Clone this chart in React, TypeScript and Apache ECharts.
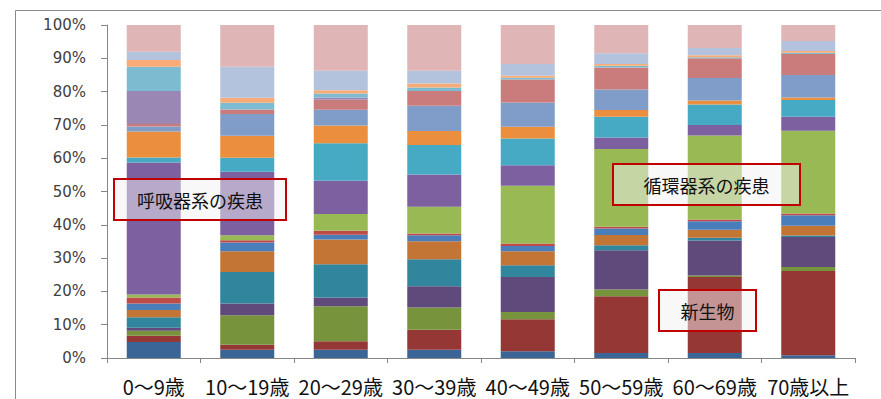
import React, { useEffect, useRef } from "react";
import * as echarts from "echarts";

const categories = ["0～9歳", "10～19歳", "20～29歳", "30～39歳", "40～49歳", "50～59歳", "60～69歳", "70歳以上"];

// series values (percent of each age group), bottom to top
const s01 = [4.8, 2.5, 2.5, 2.5, 2.0, 1.5, 1.5, 0.8];
const s02 = [1.9, 1.5, 2.5, 6.0, 9.6, 17.0, 22.8, 25.3];
const s03 = [1.5, 8.8, 10.5, 6.6, 2.2, 2.0, 0.5, 1.2];
const s04 = [0.9, 3.5, 2.6, 6.4, 10.5, 11.8, 10.5, 9.0];
const s05 = [3.1, 9.5, 10.0, 8.1, 3.5, 1.5, 0.8, 0.4];
const s06 = [2.2, 6.2, 7.4, 5.4, 4.2, 3.1, 2.4, 2.9];
const s07 = [2.0, 2.6, 1.4, 1.8, 1.6, 1.9, 2.6, 3.2];
const s08 = [1.8, 0.7, 1.2, 0.5, 0.7, 0.5, 0.5, 0.5];
const s09 = [0.9, 1.5, 5.0, 8.0, 17.3, 23.3, 25.2, 24.8];
const s10 = [39.6, 19.0, 10.0, 9.7, 6.2, 3.5, 3.2, 4.2];
const s11 = [1.5, 4.2, 11.2, 8.8, 8.0, 6.2, 6.1, 5.0];
const s12 = [7.8, 6.6, 5.3, 4.2, 3.5, 2.0, 1.2, 0.8];
const s13 = [1.5, 6.5, 4.7, 7.6, 7.3, 6.2, 6.8, 6.7];
const s14 = [0.8, 1.4, 3.0, 4.4, 6.9, 6.6, 5.9, 6.3];
const s15 = [9.9, 0, 0.7, 0, 0, 0, 0, 0];
const s16 = [7.3, 2.0, 1.2, 1.1, 0.5, 0.5, 0.3, 0.4];
const s17 = [2.0, 1.5, 1.0, 1.2, 0.6, 0.5, 0.6, 0.5];
const s18 = [2.5, 9.3, 5.8, 3.8, 3.5, 3.2, 2.2, 3.0];
const s19 = [8.0, 12.5, 13.7, 13.7, 11.7, 8.5, 6.9, 4.8];

const seriesNames = [
  "感染症及び寄生虫症", "新生物", "血液及び造血器の疾患", "内分泌、栄養及び代謝疾患", "精神及び行動の障害",
  "神経系の疾患", "眼及び付属器の疾患", "耳及び乳様突起の疾患", "循環器系の疾患", "呼吸器系の疾患",
  "消化器系の疾患", "皮膚及び皮下組織の疾患", "筋骨格系及び結合組織の疾患", "腎尿路生殖器系の疾患",
  "周産期に発生した病態", "先天奇形、変形及び染色体異常", "症状、徴候及び異常臨床所見",
  "損傷、中毒及びその他の外因の影響", "その他",
];
const seriesValues = [s01, s02, s03, s04, s05, s06, s07, s08, s09, s10, s11, s12, s13, s14, s15, s16, s17, s18, s19];
const seriesColors = [
  "#3B6597", "#953735", "#77933C", "#604A7B", "#31859C", "#C27535",
  "#4A7EBB", "#BE4B48", "#98B954", "#7D60A0", "#46AAC5", "#EB8F3F",
  "#7F9DC8", "#C97C7B", "#9B87B3", "#7DBBD0", "#F8AB76", "#B3C3DE", "#DFB5B6",
];

const yTickFormat = "{value}%";

const boxes = [
  { label: "呼吸器系の疾患", x: 114, y: 179, w: 172, h: 41 },
  { label: "循環器系の疾患", x: 613, y: 164, w: 187, h: 41 },
  { label: "新生物", x: 659, y: 290, w: 97, h: 41 },
];

export default function App() {
  const ref = useRef<HTMLDivElement>(null);
  useEffect(() => {
    document.body.style.margin = "0";
    if (!ref.current) return;
    const chart = echarts.init(ref.current, null, { renderer: "svg" });
    const totals = categories.map((_, i) => seriesValues.reduce((a, s) => a + s[i], 0));
    const axisColor = "#868686";
    const graphic: any[] = [
      {
        type: "rect",
        z: 0,
        shape: { x: 15.5, y: 10.5, width: 1000, height: 1000 },
        style: { fill: "none", stroke: "#8a8a8a", lineWidth: 1 },
        silent: true,
      },
    ];
    boxes.forEach((b) => {
      graphic.push({
        type: "rect",
        z: 100,
        shape: { x: b.x, y: b.y, width: b.w, height: b.h },
        style: { fill: "rgba(242,242,242,0.5)", stroke: "#C00000", lineWidth: 2 },
      });
      graphic.push({
        type: "text",
        z: 101,
        x: b.x + b.w / 2,
        y: b.y + b.h / 2,
        style: {
          text: b.label,
          fill: "#111111",
          fontSize: 18,
          fontFamily: "Noto Sans CJK JP",
          align: "center",
          verticalAlign: "middle",
        },
      });
    });
    chart.setOption({
      animation: false,
      grid: { left: 107, right: 26, top: 25, bottom: 41 },
      xAxis: {
        type: "category",
        data: categories,
        axisLine: { show: true, lineStyle: { color: axisColor, width: 1 } },
        axisTick: { show: true, length: 5, lineStyle: { color: axisColor } },
        axisLabel: {
          interval: 0,
          color: "#111111",
          fontSize: 20,
          fontFamily: "Noto Sans CJK JP",
          margin: 18,
        },
      },
      yAxis: {
        type: "value",
        min: 0,
        max: 100,
        interval: 10,
        axisLine: { show: true, lineStyle: { color: axisColor, width: 1 } },
        axisTick: { show: true, length: 6, lineStyle: { color: axisColor } },
        splitLine: { show: false },
        axisLabel: {
          formatter: yTickFormat,
          color: "#404040",
          fontSize: 15,
          fontFamily: "DejaVu Sans",
          margin: 21,
        },
      },
      series: seriesValues.map((vals, k) => ({
        name: seriesNames[k],
        type: "bar",
        stack: "total",
        barWidth: 54,
        itemStyle: { color: seriesColors[k] },
        data: vals.map((v, i) => (v / totals[i]) * 100),
      })),
      graphic,
    });
    return () => chart.dispose();
  }, []);
  return <div ref={ref} style={{ position: "absolute", left: 0, top: 0, width: 881, height: 399 }} />;
}
